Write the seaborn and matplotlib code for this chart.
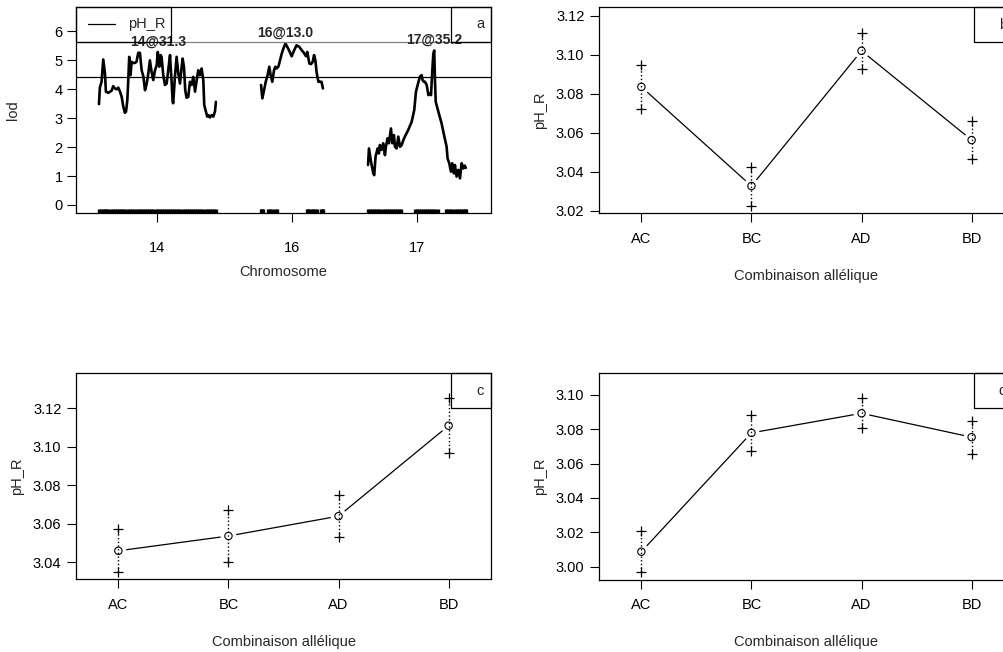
import numpy as np
import pandas as pd
import matplotlib
matplotlib.use("Agg")
import matplotlib.pyplot as plt
import seaborn as sns
from matplotlib.patches import Rectangle

# ---- panel a: LOD profile of pH_R on chromosomes 14, 16, 17 (cM within chromosome)
chr_names = ["14", "16", "17"]

chr14_pos = [0.0, 0.5, 1.4, 2.3, 3.2, 3.7, 5.0, 6.7, 7.6, 8.5, 9.4, 10.3, 11.2, 12.1,
             12.9, 13.8, 14.4, 15.1, 15.6, 16.1, 16.8, 17.4, 18.3, 19.1, 20.0, 20.9,
             21.8, 22.7, 23.6, 24.5, 25.4, 26.2, 27.1, 28.0, 28.9, 29.8, 30.7, 31.3,
             32.1, 32.8, 33.3, 34.2, 35.1, 36.0, 36.9, 37.8, 38.7, 39.2, 39.5, 40.4,
             41.3, 42.2, 43.1, 44.0, 44.5, 45.2, 45.9, 46.6, 47.5, 48.4, 49.3, 50.2,
             51.1, 52.0, 52.8, 53.7, 54.6, 55.5, 56.0, 56.9, 57.6, 58.3, 59.0, 59.9,
             60.8, 61.7, 62.2]
chr14_lod = [3.48, 4.05, 4.25, 5.02, 4.54, 3.91, 3.87, 3.94, 4.10, 4.02, 3.99, 4.05, 3.91, 3.73,
             3.41, 3.18, 3.22, 3.62, 4.31, 5.11, 4.48, 4.94, 4.90, 4.90, 4.94, 5.25,
             5.25, 4.65, 4.44, 3.96, 4.19, 4.51, 4.99, 4.59, 4.31, 4.65, 4.82, 5.28,
             4.77, 5.17, 5.11, 4.48, 4.14, 4.19, 4.67, 5.17, 4.19, 3.56, 3.51, 4.42,
             5.11, 4.54, 4.19, 4.77, 5.05, 4.77, 3.96, 3.70, 3.73, 4.25, 4.14, 4.42,
             3.91, 4.31, 4.65, 4.48, 4.71, 4.31, 3.45, 3.22, 3.05, 3.10, 3.02, 3.10,
             3.05, 3.22, 3.56]

chr16_pos = [0.0, 0.7, 1.6, 2.5, 3.5, 4.4, 5.1, 6.0, 6.9, 7.6, 8.3, 9.2, 10.1, 11.0,
             11.9, 13.0, 14.0, 15.0, 16.3, 17.5, 18.9, 20.4, 21.6, 22.8, 23.9, 24.6,
             25.7, 26.6, 27.5, 28.2, 28.9, 29.6, 30.5, 31.4, 32.2, 32.9]
chr16_lod = [4.14, 3.68, 3.96, 4.25, 4.48, 4.77, 4.48, 4.25, 4.65, 4.77, 4.71, 4.77, 4.99, 5.22,
             5.40, 5.57, 5.45, 5.32, 5.13, 5.32, 5.51, 5.45, 5.34, 5.25, 5.13, 5.28,
             4.88, 4.86, 4.94, 5.17, 4.99, 4.56, 4.25, 4.25, 4.25, 4.02]

chr17_pos = [0.0, 0.5, 1.6, 2.8, 3.3, 4.0, 5.1, 5.8, 6.3, 7.2, 8.1, 9.0, 9.5, 10.4,
             11.1, 12.2, 12.9, 13.8, 14.3, 15.2, 16.1, 17.0, 17.9, 18.8, 19.6, 21.4,
             23.2, 24.6, 25.5, 26.4, 27.6, 28.5, 29.0, 29.7, 30.3, 31.2, 32.1, 32.9,
             33.5, 34.2, 34.7, 35.2, 35.6, 36.0, 37.4, 39.1, 40.6, 41.8, 42.3, 43.2,
             44.1, 44.8, 45.7, 46.2, 47.1, 48.0, 48.9, 49.8, 50.7, 51.4, 52.0]
chr17_lod = [1.38, 1.95, 1.49, 1.09, 1.03, 1.67, 1.95, 1.78, 2.07, 1.90, 2.13, 1.72, 2.01, 2.30,
             2.13, 2.64, 2.13, 2.41, 2.01, 1.95, 2.36, 2.01, 2.07, 2.24, 2.36, 2.59,
             2.87, 3.28, 3.91, 4.14, 4.43, 4.48, 4.31, 4.25, 4.25, 4.14, 3.79, 3.85,
             3.79, 4.66, 5.20, 5.33, 4.31, 3.56, 3.22, 2.82, 2.36, 2.01, 1.61, 1.44,
             1.15, 1.44, 1.09, 1.38, 0.98, 1.21, 0.92, 1.44, 1.26, 1.36, 1.28]

# genetic markers (rug)
markers14 = [0.0, 1.0, 2.0, 3.0, 4.0, 5.0,
             6.4, 7.5, 8.6, 9.7, 10.8, 11.9, 13.0, 14.1, 15.2, 16.3, 17.4, 18.6,
             20.2, 21.3, 22.4, 23.5, 24.6, 25.7, 26.8, 27.9, 29.0, 30.1, 31.2, 32.3,
             33.4, 34.5, 35.6, 36.7, 37.8, 38.9, 40.0, 41.1, 42.2, 43.3, 44.5,
             45.7, 46.8, 47.9, 49.0, 50.1, 51.2, 52.3, 53.4, 54.5, 55.6, 56.7, 57.8,
             58.9, 60.0, 61.1, 62.2]
markers16 = [0.0, 0.6, 1.2, 3.9, 5.0, 6.1, 7.2, 8.3, 24.3, 25.0, 25.7,
             26.9, 27.8, 28.7, 29.6, 31.7, 32.2, 32.9]
markers17 = [0.0, 1.1, 2.2, 3.3, 4.4, 5.5, 6.6, 7.7, 8.8, 9.9, 11.0, 12.1, 13.2, 14.3,
             15.4, 16.5, 17.6, 24.8, 25.9, 27.0, 28.1, 29.2, 30.3, 31.4, 32.5, 33.6,
             34.7, 35.8, 37.0, 41.6, 42.7, 43.8, 44.9, 46.0, 47.1, 48.2, 49.3, 50.4,
             51.5, 52.0]

lod_thresholds = [4.4, 5.63]
peak_labels = ["14@31.3", "16@13.0", "17@35.2"]
chr_gap = 24.0

# ---- panels b, c, d: allelic combination effects (mean +/- SE)
genotypes = ["AC", "BC", "AD", "BD"]
mean_b = [3.0836, 3.0327, 3.1021, 3.0563]
se_b = [0.0112, 0.0100, 0.0094, 0.0099]
mean_c = [3.0460, 3.0537, 3.0640, 3.1110]
se_c = [0.0111, 0.0133, 0.0110, 0.0144]
mean_d = [3.0087, 3.0779, 3.0893, 3.0754]
se_d = [0.0118, 0.0107, 0.0087, 0.0097]

sns.set_theme(style="ticks")
plt.rcParams["font.family"] = ["Liberation Sans", "DejaVu Sans"]
plt.rcParams["axes.linewidth"] = 0.9
plt.rcParams["xtick.major.size"] = 6.5
plt.rcParams["ytick.major.size"] = 6.5
plt.rcParams["xtick.major.width"] = 0.8
plt.rcParams["ytick.major.width"] = 0.8
plt.rcParams["xtick.color"] = "black"
plt.rcParams["ytick.color"] = "black"
plt.rcParams["axes.edgecolor"] = "black"

FS = 10.5
W, H = 1004, 652
fig = plt.figure(figsize=(W / 100, H / 100), dpi=100)


def px_axes(left, right, top, bottom):
    return fig.add_axes([left / W, 1 - bottom / H, (right - left) / W, (bottom - top) / H])


def corner_box(ax, label):
    # little labelled box in the top-right corner (drawn like an R legend)
    bw, bh = 40 / 415, 35 / 206
    ax.add_patch(Rectangle((1 - bw, 1 - bh), bw, bh, transform=ax.transAxes,
                           fill=False, edgecolor="black", lw=0.9, zorder=6, clip_on=False))
    ax.text(1 - 11 / 415, 1 - bh / 2, label, transform=ax.transAxes, ha="center",
            va="center", fontsize=FS, zorder=7)


def style_axes(ax, xpad, ypad):
    for s in ax.spines.values():
        s.set_visible(True)
        s.set_color("black")
    ax.tick_params(axis="x", labelsize=FS, pad=xpad)
    ax.tick_params(axis="y", labelsize=FS, pad=ypad)
    ax.grid(False)


# ---------------- panel a
ax = px_axes(76, 491, 7, 213)
positions = [chr14_pos, chr16_pos, chr17_pos]
lods = [chr14_lod, chr16_lod, chr17_lod]
marks = [markers14, markers16, markers17]

frames, rug_x, mids, offset = [], [], [], 0.0
for name, pos, lod, mk in zip(chr_names, positions, lods, marks):
    pos = np.asarray(pos)
    frames.append(pd.DataFrame({"chr": name, "x": pos + offset, "lod": lod}))
    rug_x.extend(np.asarray(mk) + offset)
    mids.append(offset + mk[-1] / 2)
    offset += mk[-1] + chr_gap
lod_df = pd.concat(frames, ignore_index=True)

sns.lineplot(data=lod_df, x="x", y="lod", units="chr", estimator=None, sort=False,
             color="black", lw=1.9, ax=ax, legend=False)
sns.rugplot(x=rug_x, height=0.02, color="black", linewidth=2.4, ax=ax)
ax.axhline(lod_thresholds[0], color="black", lw=0.9)
ax.axhline(lod_thresholds[1], color="0.5", lw=0.9)

for lab, sub in zip(peak_labels, frames):
    i = sub["lod"].idxmax()
    ax.text(sub.loc[i, "x"], sub.loc[i, "lod"] + 0.36, lab, ha="center", va="center",
            fontsize=10, fontweight="bold")

ax.set_xlim(-12.2, 208.5)
ax.set_ylim(-0.276, 6.83)
ax.set_xticks(mids)
ax.set_xticklabels(chr_names)
ax.set_yticks(range(0, 7))
ax.set_xlabel("Chromosome", fontsize=FS)
ax.set_ylabel("lod", fontsize=FS)
ax.xaxis.label.set_va("center")
ax.yaxis.label.set_va("center")
ax.xaxis.set_label_coords(0.5, -0.286)
ax.yaxis.set_label_coords(-0.153, 0.5)
style_axes(ax, 14, 3)

# legend box
lw_, lh_ = 95 / 415, 35 / 206
ax.add_patch(Rectangle((0, 1 - lh_), lw_, lh_, transform=ax.transAxes, fill=False,
                       edgecolor="black", lw=0.9, zorder=6, clip_on=False))
ax.plot([12 / 415, 39 / 415], [1 - 17 / 206] * 2, transform=ax.transAxes,
        color="black", lw=0.9, zorder=7)
ax.text(52 / 415, 1 - 17 / 206, "pH_R", transform=ax.transAxes, ha="left",
        va="center", fontsize=FS, zorder=7)
corner_box(ax, "a")


# ---------------- effect panels
def effect_panel(box, means, ses, yticks, ylim, label):
    ax = px_axes(*box)
    xs = np.arange(len(genotypes))
    means = np.asarray(means)
    ses = np.asarray(ses)
    eff = pd.DataFrame({"x": xs, "mean": means, "lo": means - ses, "hi": means + ses})
    sns.lineplot(data=eff, x="x", y="mean", color="black", lw=0.9, sort=False,
                 estimator=None, ax=ax, zorder=1)
    # gap around the points, like R type = "b"
    sns.scatterplot(data=eff, x="x", y="mean", s=130, color="white", edgecolor="none",
                    ax=ax, zorder=2)
    ax.vlines(eff["x"], eff["lo"], eff["hi"], colors="black", linestyles=":", lw=1.0,
              zorder=3)
    sns.scatterplot(data=eff, x="x", y="mean", s=28, marker="o", facecolor="none",
                    edgecolor="black", linewidth=0.8, ax=ax, zorder=4)
    for col in ["lo", "hi"]:
        sns.scatterplot(data=eff, x="x", y=col, s=60, marker="+", color="black",
                        linewidth=0.9, ax=ax, zorder=4)
    ax.set_xlim(-0.385, 3.385)
    ax.set_ylim(*ylim)
    ax.set_xticks(xs)
    ax.set_xticklabels(genotypes)
    ax.set_yticks(yticks)
    ax.set_yticklabels([f"{t:.2f}" for t in yticks])
    ax.set_xlabel("Combinaison allélique", fontsize=FS)
    ax.set_ylabel("pH_R", fontsize=FS)
    ax.xaxis.label.set_va("center")
    ax.yaxis.label.set_va("center")
    ax.xaxis.set_label_coords(0.5, -0.304)
    ax.yaxis.set_label_coords(-0.142, 0.5)
    style_axes(ax, 7, 4)
    corner_box(ax, label)
    return ax


effect_panel((599, 1014, 7, 213.3), mean_b, se_b,
             [3.02, 3.04, 3.06, 3.08, 3.10, 3.12], (3.0187, 3.1246), "b")
effect_panel((76, 491, 373.3, 579.3), mean_c, se_c,
             [3.04, 3.06, 3.08, 3.10, 3.12], (3.0312, 3.1382), "c")
effect_panel((599, 1014, 373.3, 579.7), mean_d, se_d,
             [3.00, 3.02, 3.04, 3.06, 3.08, 3.10], (2.9924, 3.1126), "d")

fig.savefig("out.png", dpi=100)
